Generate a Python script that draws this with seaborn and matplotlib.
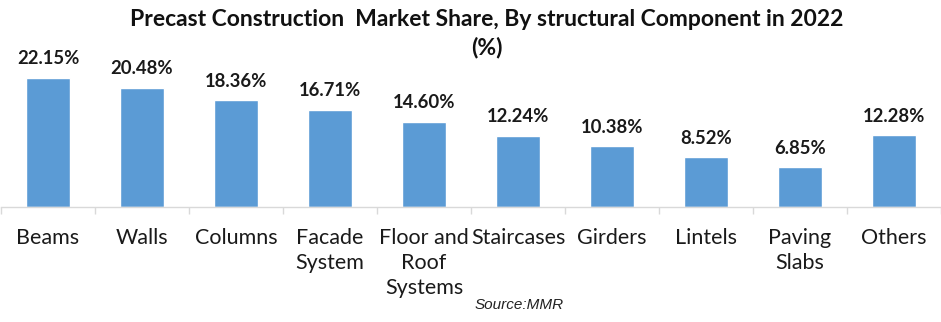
import matplotlib
matplotlib.use("Agg")
import matplotlib.pyplot as plt
import seaborn as sns
import pandas as pd
import numpy as np

categories = ["Beams", "Walls", "Columns", "Facade\nSystem", "Floor and\nRoof\nSystems",
              "Staircases", "Girders", "Lintels", "Paving\nSlabs", "Others"]
shares = [22.15, 20.48, 18.36, 16.71, 14.60, 12.24, 10.38, 8.52, 6.85, 12.28]
value_labels = ["22.15%", "20.48%", "18.36%", "16.71%", "14.60%",
                "12.24%", "10.38%", "8.52%", "6.85%", "12.28%"]

df = pd.DataFrame({"component": categories, "share": shares})

sns.set_theme(style="white")
plt.rcParams["font.family"] = ["Lato", "DejaVu Sans"]

W, H = 941, 322
fig = plt.figure(figsize=(W / 100, H / 100), dpi=100)
ax = fig.add_axes([1 / W, (H - 207) / H, (W - 1) / W, 207 / H])

sns.barplot(data=df, x="component", y="share", color="#5B9BD5", width=0.47,
            saturation=1, ax=ax)
ax.set_ylim(0, 35.5)
ax.set_xlim(-0.5, len(categories) - 0.5)

for i, (v, lab) in enumerate(zip(shares, value_labels)):
    ax.annotate(lab, (i, v), xytext=(0, 7.5), textcoords="offset points",
                ha="center", va="bottom", fontsize=13.3, fontweight="bold",
                color="#1a1a1a")

for s in ["top", "right", "left"]:
    ax.spines[s].set_visible(False)
ax.spines["bottom"].set_color("#d9d9d9")
ax.spines["bottom"].set_linewidth(1)

ax.set_yticks([])
ax.set_xlabel("")
ax.set_ylabel("")
ax.set_xticks(np.arange(len(categories)))
ax.set_xticklabels(categories, fontsize=15.5, color="#1a1a1a", linespacing=1.32)
ax.tick_params(axis="x", which="major", length=0, pad=15)
ax.set_xticks(np.arange(len(categories) + 1) - 0.5, minor=True)
ax.tick_params(axis="x", which="minor", length=5, width=1, color="#d9d9d9",
               direction="out", bottom=True)

fig.text(487 / W, 1 - 19 / H, "Precast Construction  Market Share, By structural Component in 2022",
         ha="center", va="center", fontsize=16.5, fontweight="bold", color="#111111")
fig.text(487 / W, 1 - 48 / H, "(%)", ha="center", va="center", fontsize=16.5,
         fontweight="bold", color="#111111")
fig.text(519 / W, 1 - 305 / H, "Source:MMR", ha="center", va="center", fontsize=11,
         style="italic", family=["Liberation Sans", "DejaVu Sans"], color="#222222")

fig.savefig("out.png", dpi=100)
